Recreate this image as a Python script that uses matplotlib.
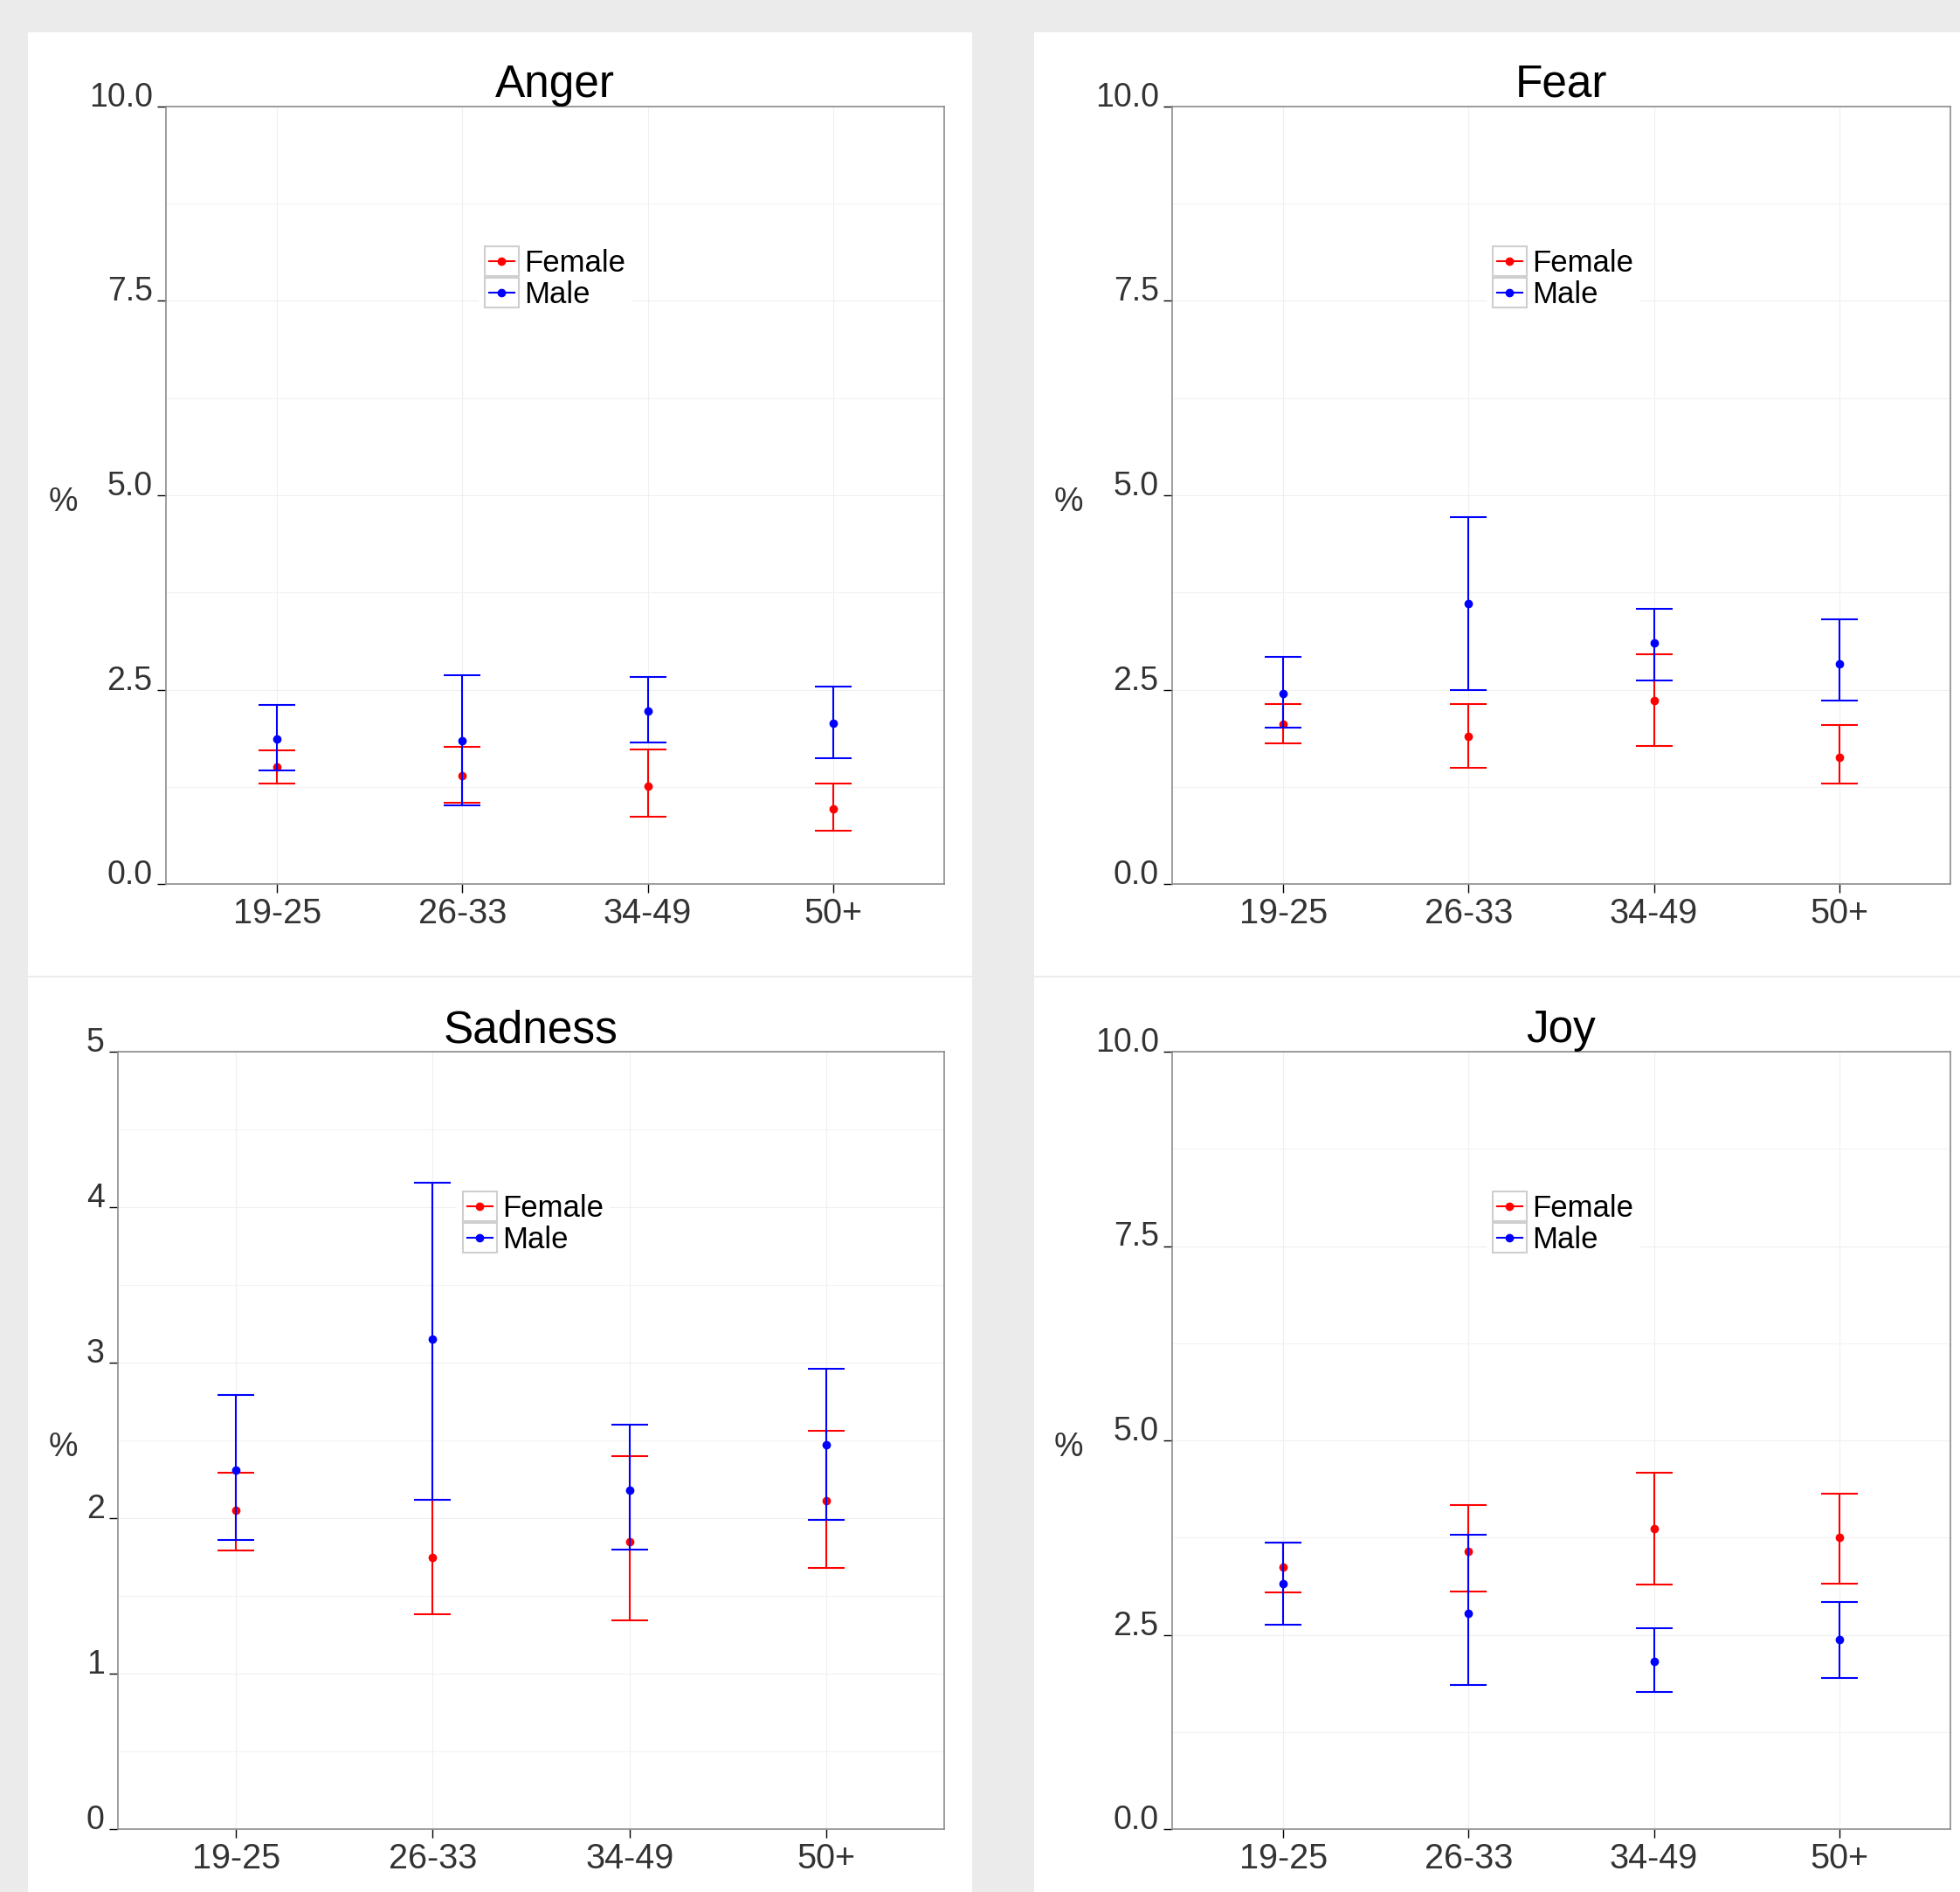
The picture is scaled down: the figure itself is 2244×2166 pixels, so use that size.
import matplotlib
matplotlib.use("Agg")
import matplotlib.pyplot as plt
from matplotlib.patches import Rectangle
from matplotlib.lines import Line2D
from matplotlib.legend_handler import HandlerBase
from matplotlib.ticker import MultipleLocator, FormatStrFormatter
import numpy as np

plt.rcParams['font.family'] = ['Liberation Sans', 'DejaVu Sans']

ages = ['19-25', '26-33', '34-49', '50+']
groups = ['Female', 'Male']
colors = {'Female': '#FF0000', 'Male': '#0000FF'}

# Anger
anger_female_mean = [1.51, 1.39, 1.26, 0.97]
anger_female_low = [1.29, 1.04, 0.87, 0.68]
anger_female_high = [1.72, 1.76, 1.73, 1.29]
anger_male_mean = [1.86, 1.84, 2.22, 2.07]
anger_male_low = [1.46, 1.01, 1.82, 1.62]
anger_male_high = [2.30, 2.68, 2.66, 2.54]

# Fear
fear_female_mean = [2.06, 1.90, 2.36, 1.63]
fear_female_low = [1.81, 1.50, 1.78, 1.29]
fear_female_high = [2.32, 2.32, 2.96, 2.05]
fear_male_mean = [2.45, 3.61, 3.10, 2.83]
fear_male_low = [2.01, 2.49, 2.62, 2.36]
fear_male_high = [2.92, 4.72, 3.54, 3.41]

# Sadness
sad_female_mean = [2.05, 1.75, 1.85, 2.11]
sad_female_low = [1.79, 1.38, 1.34, 1.68]
sad_female_high = [2.29, 2.12, 2.40, 2.56]
sad_male_mean = [2.31, 3.15, 2.18, 2.47]
sad_male_low = [1.86, 2.12, 1.80, 1.99]
sad_male_high = [2.79, 4.16, 2.60, 2.96]

# Joy
joy_female_mean = [3.37, 3.57, 3.86, 3.75]
joy_female_low = [3.05, 3.06, 3.15, 3.16]
joy_female_high = [3.68, 4.17, 4.58, 4.32]
joy_male_mean = [3.16, 2.78, 2.16, 2.44]
joy_male_low = [2.63, 1.85, 1.76, 1.94]
joy_male_high = [3.69, 3.79, 2.58, 2.92]

panels = [
    dict(title='Anger', ymax=10.0, step=2.5, fmt='%.1f',
         data={'Female': (anger_female_mean, anger_female_low, anger_female_high),
               'Male': (anger_male_mean, anger_male_low, anger_male_high)}),
    dict(title='Fear', ymax=10.0, step=2.5, fmt='%.1f',
         data={'Female': (fear_female_mean, fear_female_low, fear_female_high),
               'Male': (fear_male_mean, fear_male_low, fear_male_high)}),
    dict(title='Sadness', ymax=5, step=1, fmt='%d',
         data={'Female': (sad_female_mean, sad_female_low, sad_female_high),
               'Male': (sad_male_mean, sad_male_low, sad_male_high)}),
    dict(title='Joy', ymax=10.0, step=2.5, fmt='%.1f',
         data={'Female': (joy_female_mean, joy_female_low, joy_female_high),
               'Male': (joy_male_mean, joy_male_low, joy_male_high)}),
]

W, H = 2244, 2166
fig = plt.figure(figsize=(W / 100, H / 100), dpi=100, facecolor='#EBEBEB')

# white panel backgrounds (pixel boxes: x0, x1, y0(top), y1(bottom))
panel_boxes = [(32, 1113, 37, 1117), (1184, 2244, 37, 1117),
               (32, 1113, 1119, 2166), (1184, 2244, 1119, 2166)]
for x0, x1, y0, y1 in panel_boxes:
    fig.patches.append(Rectangle((x0 / W, 1 - y1 / H), (x1 - x0) / W, (y1 - y0) / H,
                                 transform=fig.transFigure, facecolor='white',
                                 edgecolor='none', zorder=-5))

# axes boxes (left, right, top, bottom) in pixels
axes_boxes = [(190, 1081, 122, 1012), (1342, 2233, 122, 1012),
              (135, 1081, 1204, 2094), (1342, 2233, 1204, 2094)]
pct_x = [72, 1223, 72, 1223]
legend_anchor = [(548, 275), (1702, 275), (523, 1357), (1702, 1357)]


class BoxedHandler(HandlerBase):
    def create_artists(self, legend, orig_handle, xdescent, ydescent,
                       width, height, fontsize, trans):
        rect = Rectangle((-xdescent, -ydescent), width, height,
                         facecolor='white', edgecolor='#CFCFCF', lw=1.5,
                         transform=trans)
        y = -ydescent + height / 2
        pad = width * 0.12
        c = orig_handle.get_color()
        line = Line2D([-xdescent + pad, -xdescent + width - pad], [y, y],
                      color=c, lw=1.5, transform=trans)
        mk = Line2D([-xdescent + width / 2], [y], marker='o', ms=6,
                    color=c, linestyle='none', transform=trans)
        return [rect, line, mk]


x = np.arange(len(ages))
for i, p in enumerate(panels):
    l, r, t, b = axes_boxes[i]
    ax = fig.add_axes([l / W, 1 - b / H, (r - l) / W, (b - t) / H])
    ax.set_zorder(1)
    ax.set_facecolor('white')
    ax.set_axisbelow(True)
    for g in groups:
        mean, low, high = p['data'][g]
        mean = np.array(mean); low = np.array(low); high = np.array(high)
        yerr = np.vstack([mean - low, high - mean])
        ax.errorbar(x, mean, yerr=yerr, fmt='o', color=colors[g], ecolor=colors[g],
                    elinewidth=1.5, capsize=15, capthick=1.5, markersize=6,
                    zorder=3 if g == 'Male' else 2)
    ax.set_xlim(-0.6, 3.6)
    ax.set_ylim(0, p['ymax'])
    ax.set_xticks(x)
    ax.set_xticklabels(ages)
    ax.yaxis.set_major_locator(MultipleLocator(p['step']))
    ax.yaxis.set_minor_locator(MultipleLocator(p['step'] / 2))
    ax.yaxis.set_major_formatter(FormatStrFormatter(p['fmt']))
    ax.grid(True, which='major', color='#EFEFEF', lw=0.8)
    ax.grid(True, which='minor', axis='y', color='#F2F2F2', lw=0.8)
    ax.tick_params(axis='both', which='major', direction='out', length=7,
                   width=1.0, color='black', labelcolor='#333333')
    ax.tick_params(axis='y', which='minor', length=0)
    ax.tick_params(axis='y', labelsize=27, pad=4)
    ax.tick_params(axis='x', labelsize=28.5, pad=4)
    for lab in ax.get_yticklabels():
        lab.set_verticalalignment('baseline')
    for s in ax.spines.values():
        s.set_color('#8C8C8C')
        s.set_linewidth(1.2)
    ax.set_title(p['title'], fontsize=37, pad=6, color='black')
    ax.set_ylabel('%', rotation=0, fontsize=27, color='#333333',
                  ha='center', va='center')
    ax.yaxis.set_label_coords((pct_x[i] - l) / (r - l), 0.5 - 8 / (b - t))
    ax_x, ax_y = legend_anchor[i]
    handles = [Line2D([], [], color=colors[g], marker='o') for g in groups]
    leg = ax.legend(handles, groups, loc='upper left',
                    bbox_to_anchor=((ax_x - l) / (r - l), (b - ax_y) / (b - t)),
                    borderaxespad=0, borderpad=0.2, fontsize=25,
                    handlelength=1.12, handleheight=1.15, labelspacing=0,
                    handletextpad=0.17, frameon=True, fancybox=False,
                    handler_map={Line2D: BoxedHandler()})
    leg.get_frame().set_facecolor('white')
    leg.get_frame().set_edgecolor('none')
    leg.get_frame().set_alpha(1)

fig.savefig('out.png', dpi=100, facecolor=fig.get_facecolor())
